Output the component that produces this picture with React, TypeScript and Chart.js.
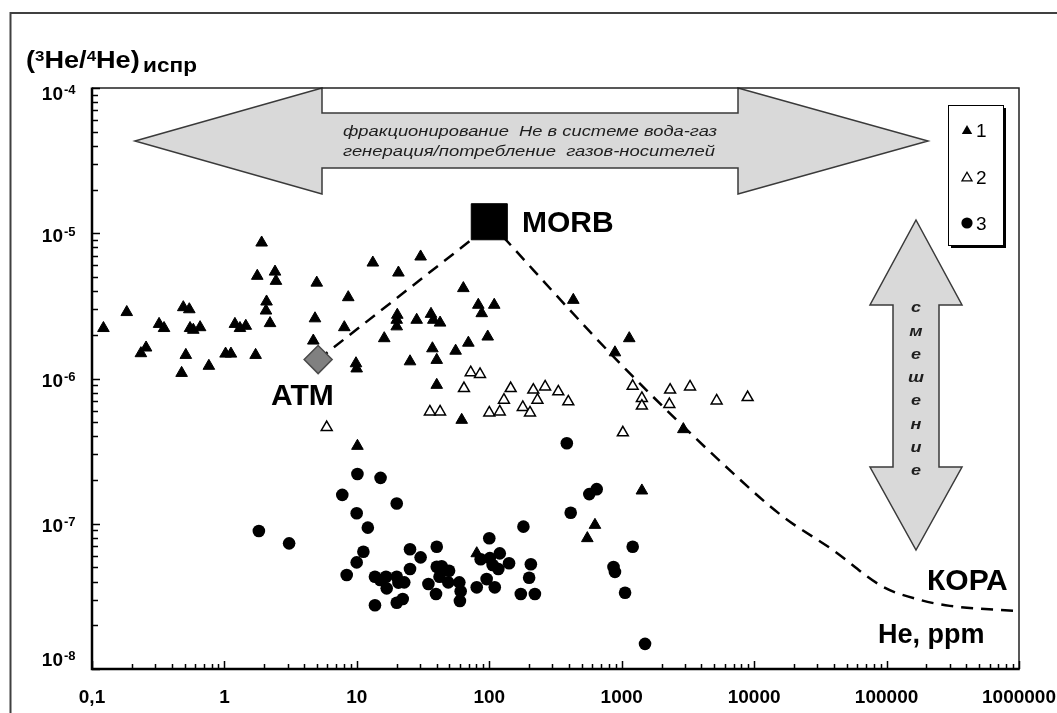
import React, { useEffect, useRef } from 'react';
import { Chart, registerables } from 'chart.js';

Chart.register(...registerables);

const W = 1057;
const H = 713;

// axis ticks
const xTickValues = [0.1, 1, 10, 100, 1000, 10000, 100000, 1000000];
const xTickLabels = ['0,1', '1', '10', '100', '1000', '10000', '100000', '1000000'];
const yTickValues = [1e-4, 1e-5, 1e-6, 1e-7, 1e-8];
const yTickExponents = ['-4', '-5', '-6', '-7', '-8'];

// series 1: filled triangles  [He ppm, 3He/4He]
const series1: [number, number][] = [
  [0.122, 2.22e-6], [0.183, 2.86e-6], [0.234, 1.49e-6], [0.256, 1.63e-6], [0.321, 2.37e-6],
  [0.35, 2.22e-6], [0.489, 3.09e-6], [0.543, 2.99e-6], [0.511, 1.45e-6], [0.475, 1.09e-6],
  [0.55, 2.22e-6], [0.582, 2.16e-6], [0.655, 2.25e-6], [0.763, 1.22e-6], [1.02, 1.48e-6],
  [1.12, 1.48e-6], [1.2, 2.37e-6], [1.31, 2.22e-6], [1.45, 2.3e-6], [1.72, 1.45e-6],
  [1.77, 5.08e-6], [1.91, 8.61e-6], [2.08, 3.38e-6], [2.06, 2.93e-6], [2.21, 2.4e-6],
  [2.41, 5.43e-6], [2.45, 4.69e-6], [4.98, 4.56e-6], [4.83, 2.59e-6], [4.69, 1.82e-6],
  [8.61, 3.62e-6], [8.04, 2.25e-6], [9.85, 1.27e-6], [9.97, 1.17e-6], [13.2, 6.27e-6],
  [30.3, 6.9e-6], [20.6, 5.35e-6], [20.2, 2.74e-6], [20.0, 2.53e-6], [20.0, 2.28e-6],
  [16.1, 1.89e-6], [25.2, 1.31e-6], [28.3, 2.53e-6], [36.3, 2.78e-6], [37.8, 2.53e-6],
  [42.5, 2.42e-6], [37.2, 1.61e-6], [40.1, 1.34e-6], [55.7, 1.55e-6], [69.5, 1.76e-6],
  [40.1, 9.02e-7], [61.9, 5.18e-7], [63.7, 4.18e-6], [82.6, 3.21e-6], [87.7, 2.81e-6],
  [109, 3.21e-6], [97.3, 1.94e-6], [431, 3.47e-6], [889, 1.51e-6], [10.1, 3.43e-7],
  [80.4, 6.25e-8], [628, 9.8e-8], [550, 7.94e-8], [1140, 1.89e-6], [2920, 4.47e-7],
  [1420, 1.69e-7],
];

// series 2: open triangles
const series2: [number, number][] = [
  [5.92, 4.61e-7], [72.4, 1.1e-6], [85.1, 1.07e-6], [64.4, 8.55e-7], [35.6, 5.9e-7],
  [42.5, 5.9e-7], [100, 5.81e-7], [120, 5.9e-7], [129, 7.11e-7], [145, 8.55e-7],
  [179, 6.34e-7], [203, 5.81e-7], [215, 8.34e-7], [231, 7.11e-7], [264, 8.77e-7],
  [332, 8.11e-7], [395, 6.92e-7], [1020, 4.24e-7], [1210, 8.87e-7], [1420, 7.31e-7],
  [1420, 6.47e-7], [2320, 8.34e-7], [2290, 6.64e-7], [3280, 8.77e-7], [5210, 7.03e-7],
  [8930, 7.41e-7],
];

// series 3: filled circles
const series3: [number, number][] = [
  [1.82, 8.91e-8], [3.08, 7.33e-8], [7.76, 1.58e-7], [9.97, 1.18e-7], [12.1, 9.4e-8],
  [11.2, 6.41e-8], [9.97, 5.42e-8], [8.38, 4.44e-8], [10.1, 2.2e-7], [15.1, 2.07e-7],
  [20.0, 1.38e-7], [13.7, 4.32e-8], [15.0, 4.1e-8], [16.8, 3.59e-8], [16.6, 4.32e-8],
  [13.7, 2.75e-8], [20.0, 4.32e-8], [20.0, 2.86e-8], [22.2, 3.03e-8], [20.6, 3.93e-8],
  [22.8, 3.95e-8], [25.2, 4.88e-8], [25.2, 6.67e-8], [30.3, 5.87e-8], [40.1, 6.95e-8],
  [40.1, 5.06e-8], [43.7, 5.1e-8], [49.7, 4.75e-8], [42.1, 4.32e-8], [34.7, 3.85e-8],
  [49.0, 3.95e-8], [39.6, 3.28e-8], [59.4, 3.95e-8], [60.8, 3.43e-8], [60.0, 2.94e-8],
  [80.4, 3.65e-8], [95.5, 4.16e-8], [110, 3.65e-8], [100, 7.94e-8], [86.1, 5.69e-8],
  [101, 5.8e-8], [120, 6.25e-8], [106, 5.2e-8], [117, 4.88e-8], [141, 5.35e-8],
  [181, 9.55e-8], [206, 5.26e-8], [200, 4.25e-8], [173, 3.28e-8], [221, 3.28e-8],
  [385, 3.58e-7], [412, 1.19e-7], [569, 1.6e-7], [647, 1.73e-7], [1210, 6.95e-8],
  [867, 5.04e-8], [889, 4.66e-8], [1060, 3.35e-8], [1500, 1.49e-8],
];

// end members
const atmPoint: [number, number][] = [[5.1, 1.35e-6]];
const morbPoint: [number, number][] = [[100, 1.2e-5]];

// dashed lines
const atmMorbLine: [number, number][] = [[5.1, 1.35e-6], [80, 9.6e-6]];
const mixingCurve: [number, number][] = [
  [100, 1.2e-5], [997, 1.24e-6], [6920, 2.23e-7], [16500, 1.12e-7], [39400, 6.59e-8],
  [94000, 3.68e-8], [179000, 2.99e-8], [301000, 2.72e-8], [1000000, 2.5e-8],
];

const legendLabels = ['1', '2', '3'];
const titlePieces: [string, string, number][] = [
  ['(', 'main', 0], ['3', 'sup', 0], ['He/', 'main', 0], ['4', 'sup', 0], ['He)', 'main', 0], ['испр', 'sub', 0],
];
const arrowTextLines = ['фракционирование  He в системе вода-газ', 'генерация/потребление  газов-носителей'];
const mixingWord = ['с', 'м', 'е', 'ш', 'е', 'н', 'и', 'е'];
const labelMORB = 'MORB';
const labelATM = 'ATM';
const labelCrust = 'КОРА';
const labelXAxis = 'He, ppm';

const FONT = '"Liberation Sans", Arial, sans-serif';

function fitText(ctx: any, text: string, x: number, y: number, targetW: number, align: string) {
  const w = ctx.measureText(text).width;
  const s = targetW / w;
  ctx.save();
  ctx.translate(x, y);
  ctx.scale(s, 1);
  ctx.textAlign = align;
  ctx.fillText(text, 0, 0);
  ctx.restore();
}

function tri(ctx: any, x: number, y: number, r: number) {
  ctx.beginPath();
  ctx.moveTo(x, y - r);
  ctx.lineTo(x + r * Math.sin((2 * Math.PI) / 3), y + r / 2);
  ctx.lineTo(x - r * Math.sin((2 * Math.PI) / 3), y + r / 2);
  ctx.closePath();
}

const decor = {
  id: 'decor',
  beforeDraw(chart: any) {
    const ctx = chart.ctx;
    ctx.save();
    ctx.fillStyle = '#fff';
    ctx.fillRect(0, 0, W, H);
    ctx.restore();
  },
  beforeDatasetsDraw(chart: any) {
    const ctx = chart.ctx;
    ctx.save();
    ctx.fillStyle = '#d9d9d9';
    ctx.strokeStyle = '#3a3a3a';
    ctx.lineWidth = 1.5;
    ctx.lineJoin = 'miter';
    // horizontal double arrow
    const hp = [
      [135, 141], [322, 88], [322, 113], [738, 113], [738, 88], [928, 141],
      [738, 194], [738, 168], [322, 168], [322, 194],
    ];
    ctx.beginPath();
    hp.forEach((p, i) => (i ? ctx.lineTo(p[0], p[1]) : ctx.moveTo(p[0], p[1])));
    ctx.closePath();
    ctx.fill();
    ctx.stroke();
    // vertical double arrow
    const vp = [
      [916, 220], [962, 305], [939, 305], [939, 467], [962, 467], [916, 550],
      [870, 467], [893, 467], [893, 305], [870, 305],
    ];
    ctx.beginPath();
    vp.forEach((p, i) => (i ? ctx.lineTo(p[0], p[1]) : ctx.moveTo(p[0], p[1])));
    ctx.closePath();
    ctx.fill();
    ctx.stroke();

    // arrow texts
    ctx.fillStyle = '#1e1e1e';
    ctx.font = `italic 15px ${FONT}`;
    ctx.textBaseline = 'alphabetic';
    fitText(ctx, arrowTextLines[0], 530, 136, 374, 'center');
    fitText(ctx, arrowTextLines[1], 529, 156, 372, 'center');
    ctx.font = `italic bold 15px ${FONT}`;
    const ys = [307, 331, 354, 377, 400, 424, 447, 470];
    mixingWord.forEach((ch, i) => {
      const w = ctx.measureText(ch).width;
      fitText(ctx, ch, 916, ys[i] + 5, w * 1.2, 'center');
    });
    ctx.restore();
  },
  afterDraw(chart: any) {
    const ctx = chart.ctx;
    const xs = chart.scales.x;
    const yscale = chart.scales.y;
    const a = chart.chartArea;
    ctx.save();

    // outer frame
    ctx.strokeStyle = '#404040';
    ctx.lineWidth = 2;
    ctx.beginPath();
    ctx.moveTo(10.5, H);
    ctx.lineTo(10.5, 13);
    ctx.lineTo(W, 13);
    ctx.stroke();

    // plot border top/right
    ctx.strokeStyle = '#222';
    ctx.lineWidth = 1.5;
    ctx.beginPath();
    ctx.moveTo(a.left, a.top);
    ctx.lineTo(a.right, a.top);
    ctx.lineTo(a.right, a.bottom);
    ctx.stroke();

    // ticks
    ctx.strokeStyle = '#000';
    ctx.lineWidth = 1.5;
    ctx.beginPath();
    for (let d = -8; d <= -4; d++) {
      for (let k = 1; k <= 9; k++) {
        const v = k * Math.pow(10, d);
        if (v > 1.0001e-4) break;
        const py = Math.round(yscale.getPixelForValue(v)) + 0.5;
        const len = k === 1 ? 8 : 6;
        ctx.moveTo(a.left, py);
        ctx.lineTo(a.left + len, py);
      }
    }
    for (let d = -1; d <= 6; d++) {
      for (let k = 1; k <= 9; k++) {
        const v = k * Math.pow(10, d);
        if (v > 1.0001e6) break;
        const px = Math.round(xs.getPixelForValue(v)) + 0.5;
        const len = k === 1 ? 8 : 5;
        ctx.moveTo(px, a.bottom);
        ctx.lineTo(px, a.bottom - len);
      }
    }
    ctx.stroke();

    // axis lines left/bottom
    ctx.lineWidth = 2.5;
    ctx.beginPath();
    ctx.moveTo(a.left, a.top - 0.5);
    ctx.lineTo(a.left, a.bottom);
    ctx.lineTo(a.right + 0.75, a.bottom);
    ctx.stroke();

    // x tick labels
    ctx.fillStyle = '#000';
    ctx.font = `bold 19px ${FONT}`;
    ctx.textAlign = 'center';
    ctx.textBaseline = 'alphabetic';
    xTickValues.forEach((v, i) => {
      const px = xs.getPixelForValue(v);
      ctx.fillText(xTickLabels[i], px, 703);
    });

    // y tick labels 10^n
    yTickValues.forEach((v, i) => {
      let c = yscale.getPixelForValue(v);
      c = Math.min(Math.max(c, a.top + 3.5), a.bottom - 11.5);
      const base = c + 8.5;
      ctx.font = `bold 19px ${FONT}`;
      ctx.textAlign = 'right';
      ctx.fillText('10', 63, base);
      ctx.font = `bold 13px ${FONT}`;
      ctx.textAlign = 'left';
      ctx.fillText(yTickExponents[i], 64, base - 6);
    });

    // title: (3He/4He)испр, laid out in sequence and stretched to the reference width
    const fonts: any = {
      main: [`bold 24px ${FONT}`, 68],
      sup: [`bold 15px ${FONT}`, 61],
      sub: [`bold 20px ${FONT}`, 72],
    };
    let total = 0;
    const widths = titlePieces.map(([t, kind]) => {
      ctx.font = fonts[kind][0];
      const w = ctx.measureText(t).width + (kind === 'sub' ? 3 : 0);
      total += w;
      return w;
    });
    const sx = 171 / total;
    ctx.save();
    ctx.translate(26, 0);
    ctx.scale(sx, 1);
    ctx.textAlign = 'left';
    let cx = 0;
    titlePieces.forEach(([t, kind], i) => {
      ctx.font = fonts[kind][0];
      ctx.fillText(t, cx + (kind === 'sub' ? 3 : 0), fonts[kind][1]);
      cx += widths[i];
    });
    ctx.restore();

    // point labels
    ctx.font = `bold 30px ${FONT}`;
    ctx.textAlign = 'left';
    ctx.fillText(labelMORB, 522, 232);
    ctx.fillText(labelATM, 271, 405);
    ctx.fillText(labelCrust, 927, 590);
    ctx.font = `bold 27px ${FONT}`;
    ctx.fillText(labelXAxis, 878, 643);

    // legend
    const lx = 948, ly = 105, lw = 55, lh = 140;
    ctx.fillStyle = '#000';
    ctx.fillRect(lx + 3, ly + 3, lw, lh);
    ctx.fillStyle = '#fff';
    ctx.fillRect(lx, ly, lw, lh);
    ctx.strokeStyle = '#000';
    ctx.lineWidth = 1;
    ctx.strokeRect(lx + 0.5, ly + 0.5, lw, lh);
    const ly0 = [130, 177, 223];
    ctx.fillStyle = '#000';
    tri(ctx, 967, ly0[0] + 1, 6);
    ctx.fill();
    tri(ctx, 967, ly0[1] + 1, 5.8);
    ctx.fillStyle = '#fff';
    ctx.fill();
    ctx.lineWidth = 1.3;
    ctx.strokeStyle = '#000';
    ctx.stroke();
    ctx.beginPath();
    ctx.arc(967, ly0[2], 5.6, 0, Math.PI * 2);
    ctx.fillStyle = '#000';
    ctx.fill();
    ctx.font = `19px ${FONT}`;
    ctx.textAlign = 'left';
    legendLabels.forEach((t, i) => ctx.fillText(t, 976, ly0[i] + 7));

    ctx.restore();
  },
};

const toPts = (arr: [number, number][]) => arr.map(([x, y]) => ({ x, y }));

export default function App() {
  const ref = useRef<HTMLCanvasElement>(null);
  useEffect(() => {
    const canvas = ref.current as HTMLCanvasElement;
    const chart = new Chart(canvas, {
      type: 'scatter',
      data: {
        datasets: [
          { label: 'ATM', data: toPts(atmPoint), pointStyle: 'rectRot', pointRadius: 14, backgroundColor: '#808080', borderColor: '#4a4a4a', borderWidth: 1.5 },
          { label: 'MORB', data: toPts(morbPoint), pointStyle: 'rect', pointRadius: 25.5, backgroundColor: '#000', borderColor: '#000', borderWidth: 1 },
          { label: '1', data: toPts(series1), pointStyle: 'triangle', pointRadius: 6.7, backgroundColor: '#000', borderColor: '#000', borderWidth: 1 },
          { label: '2', data: toPts(series2), pointStyle: 'triangle', pointRadius: 6.3, backgroundColor: '#fff', borderColor: '#000', borderWidth: 1.5 },
          { label: '3', data: toPts(series3), pointStyle: 'circle', pointRadius: 6.3, backgroundColor: '#000', borderColor: '#000', borderWidth: 0 },
          { type: 'line', label: 'ATM-MORB', data: toPts(atmMorbLine), showLine: true, borderColor: '#000', borderWidth: 2.5, borderDash: [12, 8], pointRadius: 0, fill: false },
          { type: 'line', label: 'mixing', data: toPts(mixingCurve), showLine: true, borderColor: '#000', borderWidth: 2.5, borderDash: [12, 8], pointRadius: 0, cubicInterpolationMode: 'monotone', fill: false },
        ] as any,
      },
      options: {
        responsive: false,
        animation: false,
        events: [],
        layout: { padding: { left: 92, top: 88, right: W - 1019, bottom: H - 669 } },
        plugins: { legend: { display: false }, tooltip: { enabled: false }, title: { display: false } },
        scales: {
          x: { type: 'logarithmic', min: 0.1, max: 1e6, display: false },
          y: { type: 'logarithmic', min: 1e-8, max: 1e-4, display: false },
        },
      } as any,
      plugins: [decor as any],
    });
    return () => chart.destroy();
  }, []);
  return (
    <div style={{ position: 'absolute', left: 0, top: 0, width: W, height: H, background: '#fff' }}>
      <canvas ref={ref} width={W} height={H} style={{ display: 'block' }} />
    </div>
  );
}
